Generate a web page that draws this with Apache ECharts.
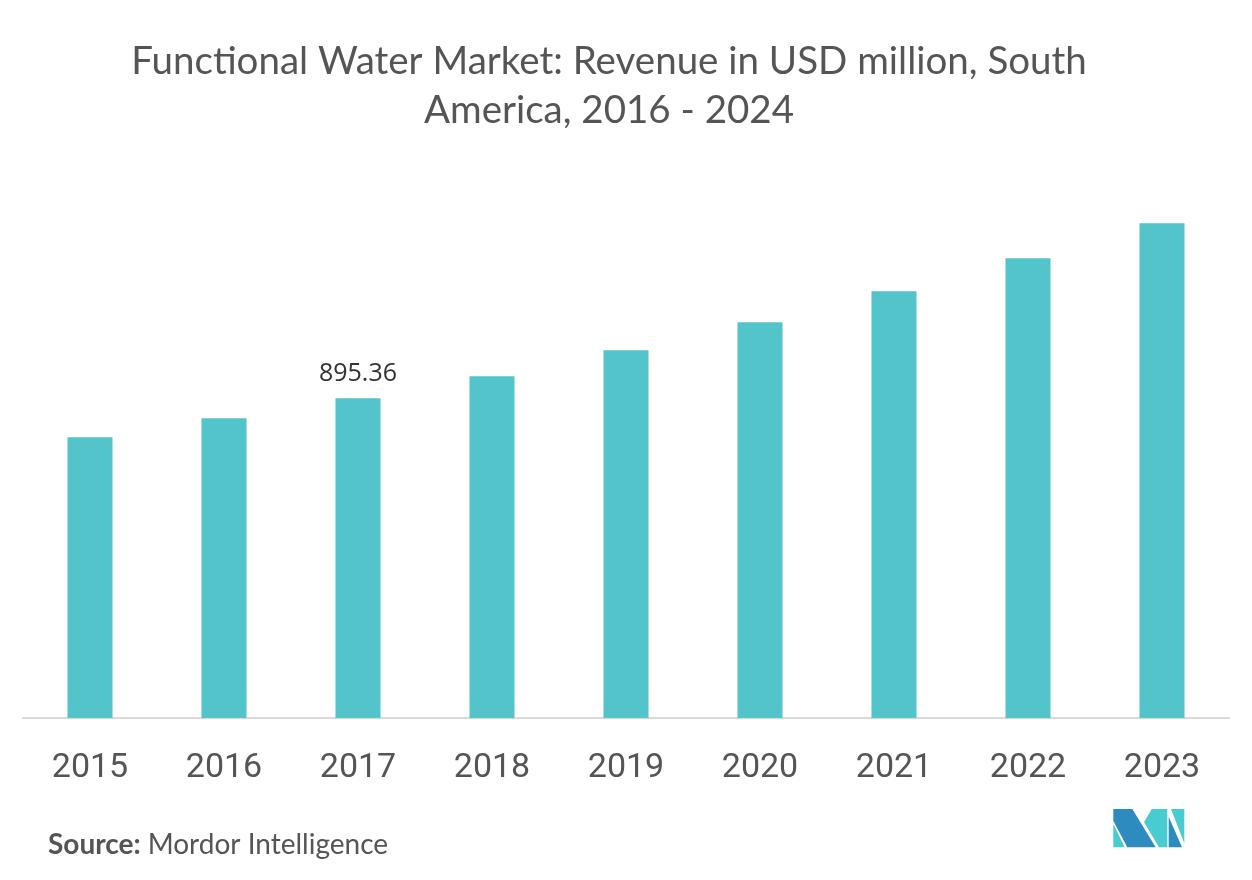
<!DOCTYPE html>
<html>
<head>
<meta charset="utf-8">
<style>html,body{margin:0;padding:0;background:#fff;}#c{width:1252px;height:880px;}</style>
<script src="https://cdn.jsdelivr.net/npm/echarts@6/dist/echarts.min.js"></script>
</head>
<body>
<div id="c"></div>
<script>
const categories = ['2015','2016','2017','2018','2019','2020','2021','2022','2023'];
const revenue = [786.2, 839.4, 895.36, 956.9, 1029.7, 1108.0, 1194.7, 1287.0, 1385.0];
const labelledIndex = 2;
const titleText = 'Functional Water Market: Revenue in USD million, South\nAmerica, 2016 - 2024';

const chart = echarts.init(document.getElementById('c'));
chart.setOption({
  backgroundColor: '#ffffff',
  animation: false,
  title: {
    text: titleText,
    left: 604, top: 32, textAlign: 'center',
    textStyle: { fontFamily: 'Lato', fontWeight: 'normal', fontSize: 38.5, lineHeight: 49, color: '#555555' }
  },
  grid: { left: 23, right: 23, top: 218, bottom: 162 },
  xAxis: {
    type: 'category', data: categories,
    axisLine: { lineStyle: { color: '#d9d9d9', width: 2 } },
    axisTick: { show: false },
    axisLabel: { fontFamily: 'Roboto', fontSize: 34, color: '#555555', margin: 33 }
  },
  yAxis: { type: 'value', min: 0, max: 1400, show: false, splitLine: { show: false } },
  series: [{
    type: 'bar', barWidth: 45,
    itemStyle: { color: '#52c4ca' },
    data: revenue.map((v, i) => ({
      value: v,
      label: { show: i === labelledIndex, position: 'top', distance: 12, formatter: '{c}',
               fontFamily: 'Open Sans', fontSize: 25, color: '#333333' }
    }))
  }],
  graphic: [
    { type: 'text', left: 48, top: 831, style: { rich: { b: { fontFamily: 'Lato', fontWeight: 'bold', fontSize: 28, fill: '#555555', padding: [0, 7, 0, 0] }, n: { fontFamily: 'Lato', fontSize: 28, fill: '#555555' } }, text: '{b|Source:}{n|Mordor Intelligence}' } },
    { type: 'polygon', shape: { points: [[1113.3,809],[1132.3,809],[1155.7,847.3],[1127.3,847.3],[1113.3,820.7]] }, style: { fill: '#2e8bc0' } },
    { type: 'polygon', shape: { points: [[1113.3,824],[1113.3,847.3],[1124.7,847.3]] }, style: { fill: '#48cbd1' } },
    { type: 'polygon', shape: { points: [[1151.7,809],[1167.3,809],[1167.3,847.3],[1159,847.3],[1144,822.3]] }, style: { fill: '#48cbd1' } },
    { type: 'polygon', shape: { points: [[1168.7,816.7],[1168.7,847.3],[1182,847.3]] }, style: { fill: '#2e8bc0' } },
    { type: 'polygon', shape: { points: [[1171,809],[1184.3,809],[1184.3,843.3]] }, style: { fill: '#48cbd1' } }
  ]
});
</script>
</body>
</html>
